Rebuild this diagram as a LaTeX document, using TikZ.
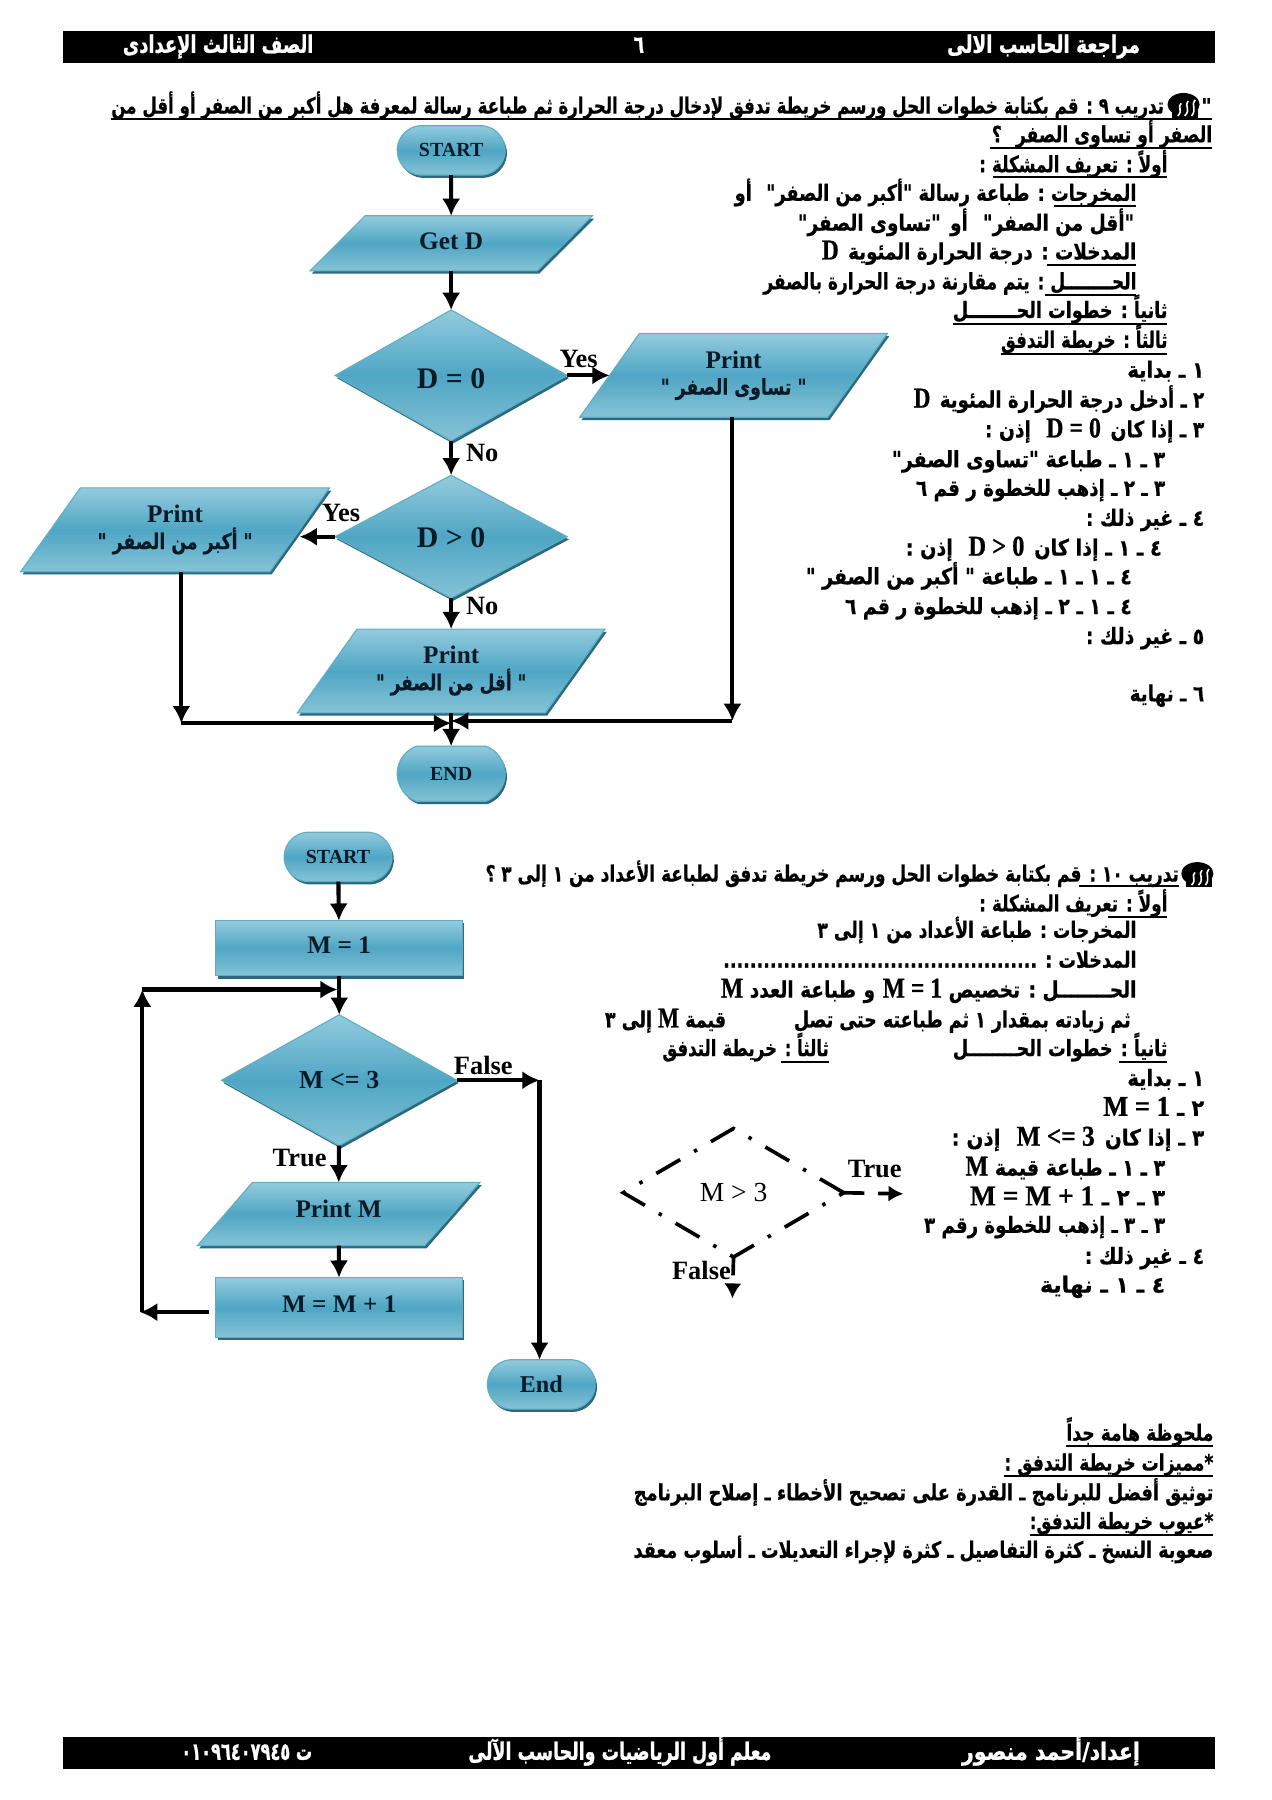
\documentclass[tikz,border=0pt]{standalone}
\usepackage{fontspec}
\usepackage{graphicx}
\usetikzlibrary{arrows.meta,shapes.geometric,shapes.misc,shadows,calc}
\TeXXeTstate=1
\newfontfamily\arabicfont[Script=Arabic,FakeBold=0.6]{DejaVu Sans Bold}
\newfontfamily\headfont[Script=Arabic,FakeBold=1.2]{DejaVu Sans Bold}
\newfontfamily\latfont{Liberation Serif}
\newfontfamily\latheavy[FakeBold=0.8]{Liberation Serif Bold}
\definecolor{tealtop}{HTML}{93CBDD}
\definecolor{tealmid}{HTML}{4FA6C4}
\definecolor{tealbot}{HTML}{86C3D6}
\definecolor{tealedge}{HTML}{5FAEC4}
\definecolor{tealshade}{HTML}{2B6A7E}
\definecolor{inktext}{HTML}{0B1A28}
\newcommand{\lt}[1]{\beginL{\latheavy\fontsize{12.5}{12.5}\selectfont #1}\endL}
\newcommand{\arl}[5]{\node[txt,anchor=base east] (#1) at (#2,#3+6) {\resizebox{\dimexpr #2pt/2-#4pt/2\relax}{\height}{\arabicfont\fontsize{9.8}{11}\selectfont #5}};}
\newcommand{\arw}[5]{\node[txt,anchor=base east,text=white] (#1) at (#2,#3+6) {\resizebox{\dimexpr #2pt/2-#4pt/2\relax}{\height}{\headfont\fontsize{10.5}{12}\selectfont #5}};}
\newcommand{\arshort}[2]{\resizebox{#1pt}{\height}{\arabicfont\fontsize{9.5}{11}\selectfont #2}}
\newcommand{\ul}[3]{\draw[rulebar] (#1,#3) -- (#2,#3);}
% parallelogram: name, x, y, width, height, slant, text
\newcommand{\para}[7]{
  \path[shapefill] (#2-#4/2,#3+#5/2) -- (#2-#4/2+#6,#3-#5/2) -- (#2+#4/2,#3-#5/2) -- (#2+#4/2-#6,#3+#5/2) -- cycle;
  \node[shapetext,rectangle,minimum width={(#4-#6)*.5pt},minimum height={#5*.5pt}] (#1) at (#2,#3) {#7};}
\newcommand{\headicon}[2]{\begin{scope}[shift={(#1,#2)}]
  \fill[black] (0,0) ellipse [x radius=14, y radius=10];
  \fill[black] (-10,5) rectangle (13,12);
  \draw[white,line width=.7pt] (-2,-1) .. controls (-6,2) and (0,5) .. (-5,10);
  \draw[white,line width=.7pt] (4,-3) .. controls (0,1) and (7,4) .. (1,10);
  \draw[white,line width=.7pt] (10,-4) .. controls (6,0) and (12,4) .. (7,10);
\end{scope}}
\tikzset{
  txt/.style={inner sep=0pt,outer sep=0pt,text=black},
  shapefill/.style={draw=tealedge,line width=.5pt,top color=tealtop,bottom color=tealbot,middle color=tealmid,
    general shadow={fill=tealshade,draw=none,shadow xshift=.8pt,shadow yshift=-1.2pt}},
  shapetext/.style={text=inktext,inner sep=0pt,outer sep=0pt,align=center,
    font=\latfont\bfseries\fontsize{11}{12.5}\selectfont},
  shapebase/.style={shapefill,shapetext},
  term/.style={shapebase,rounded rectangle,minimum width=47pt,minimum height=21.5pt,rounded rectangle arc length=170,font=\latfont\bfseries\fontsize{8.7}{10}\selectfont},
  terml/.style={term,minimum height=24pt,rounded rectangle arc length=140},
  proc/.style={shapebase,rectangle,minimum width=107.5pt},
  deci/.style={shapebase,diamond,font=\latfont\bfseries\fontsize{13}{14}\selectfont},
  conn/.style={line width=1.8pt,-{Latex[length=7.5pt,width=8pt]}},
  lbl/.style={txt,font=\latfont\bfseries\fontsize{11.5}{12}\selectfont},
  rulebar/.style={line width=.9pt,black},
  ddiam/.style={diamond,draw=black,line width=1.6pt,dash pattern=on 12pt off 7pt on 1.5pt off 7pt,minimum width=96pt,minimum height=56pt,inner sep=0pt,outer sep=0pt,aspect=1.7,font=\latfont\fontsize{12}{12}\selectfont},
}
\begin{document}
\begin{tikzpicture}[x=.5pt,y=-.5pt]
\useasboundingbox (0,0) rectangle (1108,1568);
\fill[white] (0,0) rectangle (1108,1568);
% bars
\fill[black] (55,27) rectangle (1058,55);
\fill[black] (55,1513) rectangle (1058,1541);
\arw{h1}{993}{40}{825}{\beginR مراجعة الحاسب الالى\endR}
\arw{h2}{273}{40}{107}{\beginR الصف الثالث الإعدادى\endR}
\arw{h3}{561}{40}{552}{\beginR ٦\endR}
\arw{f1}{993}{1527}{838}{\beginR إعداد/أحمد منصور\endR}
\arw{f2}{672}{1527}{408}{\beginR معلم أول الرياضيات والحاسب الآلى\endR}
\arw{f3}{272}{1527}{158}{\beginR ت  \beginL ٠١٠٩٦٤٠٧٩٤٥\endL\endR}

% first flow chart
\node[term] (s1) at (393,131) {START};
\para{g1}{393}{212}{246}{48}{48}{\raisebox{.5pt}[8pt][2pt]{Get D}}
\node[deci,minimum width=101pt,minimum height=57pt] (d0) at (393,327) {\raisebox{-2pt}[9pt][2pt]{D = 0}};
\para{p1}{639}{327}{268}{73}{52}{Print\\[-1pt]\arshort{63.5}{\beginR " تساوى الصفر "\endR}}
\node[deci,minimum width=101pt,minimum height=53.5pt] (d1) at (393,467.5) {\raisebox{-1pt}[9pt][2pt]{D > 0}};
\para{pl}{152.5}{461.5}{269}{73}{52}{Print\\[-1pt]\arshort{67.5}{\beginR " أكبر من الصفر "\endR}}
\para{pb}{393}{584.5}{268}{73}{52}{Print\\[-1pt]\arshort{65.5}{\beginR " أقل من الصفر "\endR}}
\node[terml] (e1) at (393,674) {END};
\coordinate (jl) at (158,630);
\coordinate (jc) at (393,630);
\coordinate (jr) at (638,628);
\coordinate (jm) at (393,628);
\draw[conn] (s1) -- (g1);
\draw[conn] (g1) -- (d0);
\draw[conn] (d0) -- (p1.west);
\draw[conn] (d0) -- (d1);
\draw[conn] (d1) -- (pb);
\draw[conn] (d1.west) -- (d1.west -| pl.east);
\draw[conn] (jl |- pl.south) -- (jl);
\draw[conn] (jl) -- (jc);
\draw[conn] (p1.south -| jr) -- (jr);
\draw[conn] (jr) -- (jm);
\draw[conn] (pb.south) -- (e1.north);
\node[lbl] (ly1) at (504,313) {Yes};
\node[lbl] (ln1) at (420,395) {No};
\node[lbl] (ly2) at (297,447) {Yes};
\node[lbl] (ln2) at (420,528) {No};

% second flow chart
\node[term] (s2) at (294.5,746.5) {START};
\node[proc,minimum height=24pt] (m1) at (295.5,826) {\raisebox{.5pt}[8pt][2pt]{M = 1}};
\node[deci,minimum width=102.5pt,minimum height=57pt,font=\latfont\bfseries\fontsize{11.3}{13}\selectfont] (d2) at (295.5,941) {M <= 3};
\para{pm}{295}{1057.5}{246}{55}{48}{\raisebox{1.5pt}[8pt][2pt]{Print M}}
\node[proc,minimum height=26pt] (m2) at (295.5,1139) {\raisebox{1pt}[8pt][2pt]{M = M + 1}};
\node[term,font=\latfont\bfseries\fontsize{10.5}{11}\selectfont] (e2) at (471.5,1206) {End};
\coordinate (lp1) at (122,1143);
\coordinate (lp2) at (124,862);
\coordinate (lp3) at (294,862);
\coordinate (fr) at (470,941);
\coordinate (m2l) at (182,1143);
\draw[conn] (s2) -- (m1);
\draw[conn] (m1) -- (d2);
\draw[conn] (d2) -- (pm);
\draw[conn] (pm) -- (m2);
\draw[conn] (m2l) -- (lp1);
\draw[conn] (lp1 -| lp2) -- (lp2);
\draw[conn] (lp2) -- (lp3);
\draw[conn] (d2) -- (fr);
\draw[conn] (fr) -- (fr |- e2.north);
\node[lbl] (lfa) at (421,928) {False};
\node[lbl] (ltr) at (261,1009) {True};

% dashed diamond
\node[ddiam] (dd) at (639,1039) {M > 3};
\coordinate (ddt) at (787,1040);
\coordinate (ddf) at (638,1131);
\draw[line width=1.6pt,dash pattern=on 9pt off 6pt on 16pt,-{Latex[length=6.5pt,width=7pt]}] (dd.east) -- (ddt);
\draw[line width=1.6pt,dash pattern=on 8pt off 4pt on 12pt,-{Latex[length=6.5pt,width=7.5pt]}] (dd.south) -- (ddf);
\node[lbl] (ltd) at (762,1018) {True};
\node[lbl] (lfd) at (611,1107) {False};

% text block 1
\node[txt,font=\arabicfont\fontsize{9}{10}\selectfont] (q1) at (1051,92) {"};
\headicon{1031}{91}
\arl{a1}{1014}{93}{97}{\beginR تدريب ٩ : قم بكتابة خطوات الحل ورسم خريطة تدفق لإدخال درجة الحرارة ثم طباعة رسالة لمعرفة هل أكبر من الصفر أو أقل من\endR}
\ul{97}{1056}{104}
\arl{a2}{1056}{118}{864}{\beginR الصفر أو تساوى الصفر\hspace{8pt}؟\endR}
\ul{862}{1056}{129}
\arl{a3}{1017}{144}{853}{\beginR أولاً : تعريف المشكلة :\endR}
\ul{865}{1017}{154.5}
\arl{a4}{990}{169}{640}{\beginR المخرجات : طباعة رسالة "أكبر من الصفر"\hspace{8pt}أو\endR}
\ul{918}{990}{179.5}
\arl{a5}{988}{195}{695}{\beginR "أقل من الصفر"\hspace{8pt}أو\hspace{5pt}"تساوى الصفر"\endR}
\arl{a6}{990}{220}{716}{\beginR المدخلات : درجة الحرارة المئوية\hspace{5pt}\lt{D}\endR}
\ul{912}{990}{231}
\arl{a7}{990}{246}{665}{\beginR الحــــــــل : يتم مقارنة درجة الحرارة بالصفر\endR}
\ul{910}{990}{257}
\arl{a8}{1017}{271}{830}{\beginR ثانياً : خطوات الحــــــــل\endR}
\ul{830}{1017}{282}
\arl{a9}{1017}{297}{872}{\beginR ثالثاً : خريطة التدفق\endR}
\ul{872}{1017}{308}
\arl{a10}{1049}{323}{982}{\beginR ١ ـ بداية\endR}
\arl{a11}{1049}{349}{796}{\beginR ٢ ـ أدخل درجة الحرارة المئوية\hspace{5pt}\lt{D}\endR}
\arl{a12}{1049}{375}{858}{\beginR ٣ ـ إذا كان\hspace{5pt}\lt{D = 0}\hspace{8pt}إذن :\endR}
\arl{a13}{1015}{401}{777}{\beginR ٣ ـ ١ ـ طباعة "تساوى الصفر"\endR}
\arl{a14}{1015}{426}{798}{\beginR ٣ ـ ٢ ـ إذهب للخطوة ر قم ٦\endR}
\arl{a15}{1049}{452}{946}{\beginR ٤ ـ غير ذلك :\endR}
\arl{a16}{1012}{478}{789}{\beginR ٤ ـ ١ ـ إذا كان\hspace{5pt}\lt{D > 0}\hspace{8pt}إذن :\endR}
\arl{a17}{986}{503}{702}{\beginR ٤ ـ ١ ـ ١ ـ طباعة " أكبر من الصفر "\endR}
\arl{a18}{986}{529}{736}{\beginR ٤ ـ ١ ـ ٢ ـ إذهب للخطوة ر قم ٦\endR}
\arl{a19}{1049}{555}{946}{\beginR ٥ ـ غير ذلك :\endR}
\arl{a20}{1049}{605}{984}{\beginR ٦ ـ نهاية\endR}

% text block 2
\headicon{1043}{761}
\arl{b1}{1027}{762}{423}{\beginR تدريب ١٠ : قم بكتابة خطوات الحل ورسم خريطة تدفق لطباعة الأعداد من ١ إلى ٣ ؟\endR}
\ul{940}{1027}{772}
\arl{b2}{1017}{788}{853}{\beginR أولاً : تعريف المشكلة :\endR}
\ul{965}{1017}{798.5}
\arl{b3}{990}{811}{712}{\beginR المخرجات : طباعة الأعداد من ١ إلى ٣\endR}
\arl{b4}{990}{837}{630}{\beginR المدخلات : ...............................................\endR}
\arl{b5}{990}{863}{628}{\beginR الحــــــــل : تخصيص \lt{M = 1}\hspace{4pt}و\hspace{4pt}طباعة العدد \lt{M}\endR}
\arl{b6}{985}{889}{527}{\beginR ثم زيادته بمقدار ١ ثم طباعته حتى تصل\hspace{38pt}قيمة \lt{M} إلى ٣\endR}
\arl{b7}{1017}{914}{830}{\beginR ثانياً : خطوات الحــــــــل\endR}
\ul{975}{1017}{925}
\arl{b8}{722}{914}{577}{\beginR ثالثاً : خريطة التدفق\endR}
\ul{680}{722}{925}
\arl{b9}{1049}{940}{982}{\beginR ١ ـ بداية\endR}
\arl{b10}{1049}{966}{961}{\beginR ٢ ـ \lt{M = 1}\endR}
\arl{b11}{1049}{992}{829}{\beginR ٣ ـ إذا كان\hspace{5pt}\lt{M <= 3}\hspace{8pt}إذن :\endR}
\arl{b12}{1015}{1018}{841}{\beginR ٣ ـ ١ ـ طباعة قيمة \lt{M}\endR}
\arl{b13}{1015}{1044}{845}{\beginR ٣ ـ ٢ ـ \lt{M = M + 1}\endR}
\arl{b14}{1015}{1068}{805}{\beginR ٣ ـ ٣ ـ إذهب للخطوة رقم ٣\endR}
\arl{b15}{1049}{1095}{945}{\beginR ٤ ـ غير ذلك :\endR}
\arl{b16}{1015}{1120}{906}{\beginR ٤ ـ ١ ـ نهاية\endR}

% notes
\arl{c1}{1057}{1249}{929}{\beginR ملحوظة هامة جداً\endR}
\ul{929}{1057}{1260}
\arl{c2}{1057}{1275}{875}{\beginR *مميزات خريطة التدفق :\endR}
\ul{875}{1057}{1286}
\arl{c3}{1057}{1301}{552}{\beginR توثيق أفضل للبرنامج ـ القدرة على تصحيح الأخطاء ـ إصلاح البرنامج\endR}
\arl{c4}{1057}{1326}{897}{\beginR *عيوب خريطة التدفق:\endR}
\ul{897}{1057}{1337}
\arl{c5}{1057}{1351}{552}{\beginR صعوبة النسخ ـ كثرة التفاصيل ـ كثرة لإجراء التعديلات ـ أسلوب معقد\endR}
\end{tikzpicture}
\end{document}
